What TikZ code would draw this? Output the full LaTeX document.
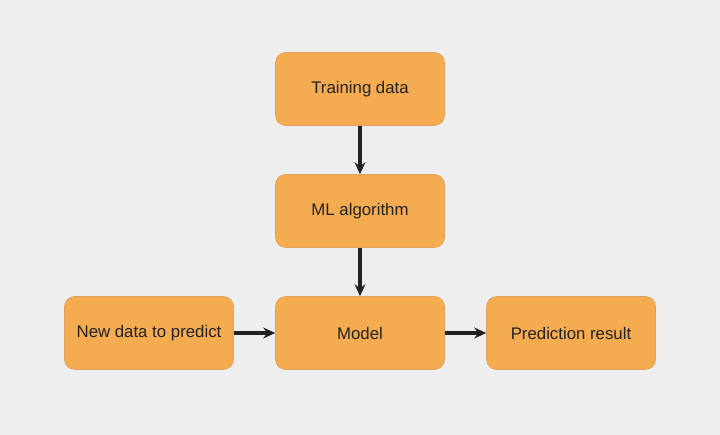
\documentclass[tikz,border=0pt]{standalone}
\usepackage{fontspec}
\setmainfont{Liberation Sans}
\usepackage{tikz}
\usetikzlibrary{arrows.meta}
\definecolor{bggray}{HTML}{EEEEEE}
\definecolor{boxorange}{HTML}{F5AB50}
\definecolor{boxedge}{HTML}{E0A060}
\definecolor{arrowdark}{HTML}{222222}
\tikzset{
  block/.style={draw=boxedge, line width=0.6pt, fill=boxorange, rounded corners=10pt,
    minimum width=169pt, minimum height=73pt, font=\fontsize{16.8}{19}\selectfont, text=arrowdark},
  link/.style={-{Stealth[length=12pt,width=11pt,inset=4pt]}, draw=arrowdark, line width=3.1pt}
}
\begin{document}
\begin{tikzpicture}[x=1pt, y=-1pt]
			\fill[bggray] (0,0) rectangle (720,435);
			\useasboundingbox (0,0) rectangle (720,435);
			\node[block] (train) at (360,89) {Training data};
			\node[block] (algo) at (360,211) {ML algorithm};
			\node[block] (model) at (360,333) {Model};
			\node[block] (newdata) at (149,333) {New data to predict};
			\node[block] (result) at (571,333) {Prediction result};
			\draw[link] (train) -- (algo);
			\draw[link] (algo) -- (model);
			\draw[link] (newdata) -- (model);
			\draw[link] (model) -- (result);
		\end{tikzpicture}
\end{document}
